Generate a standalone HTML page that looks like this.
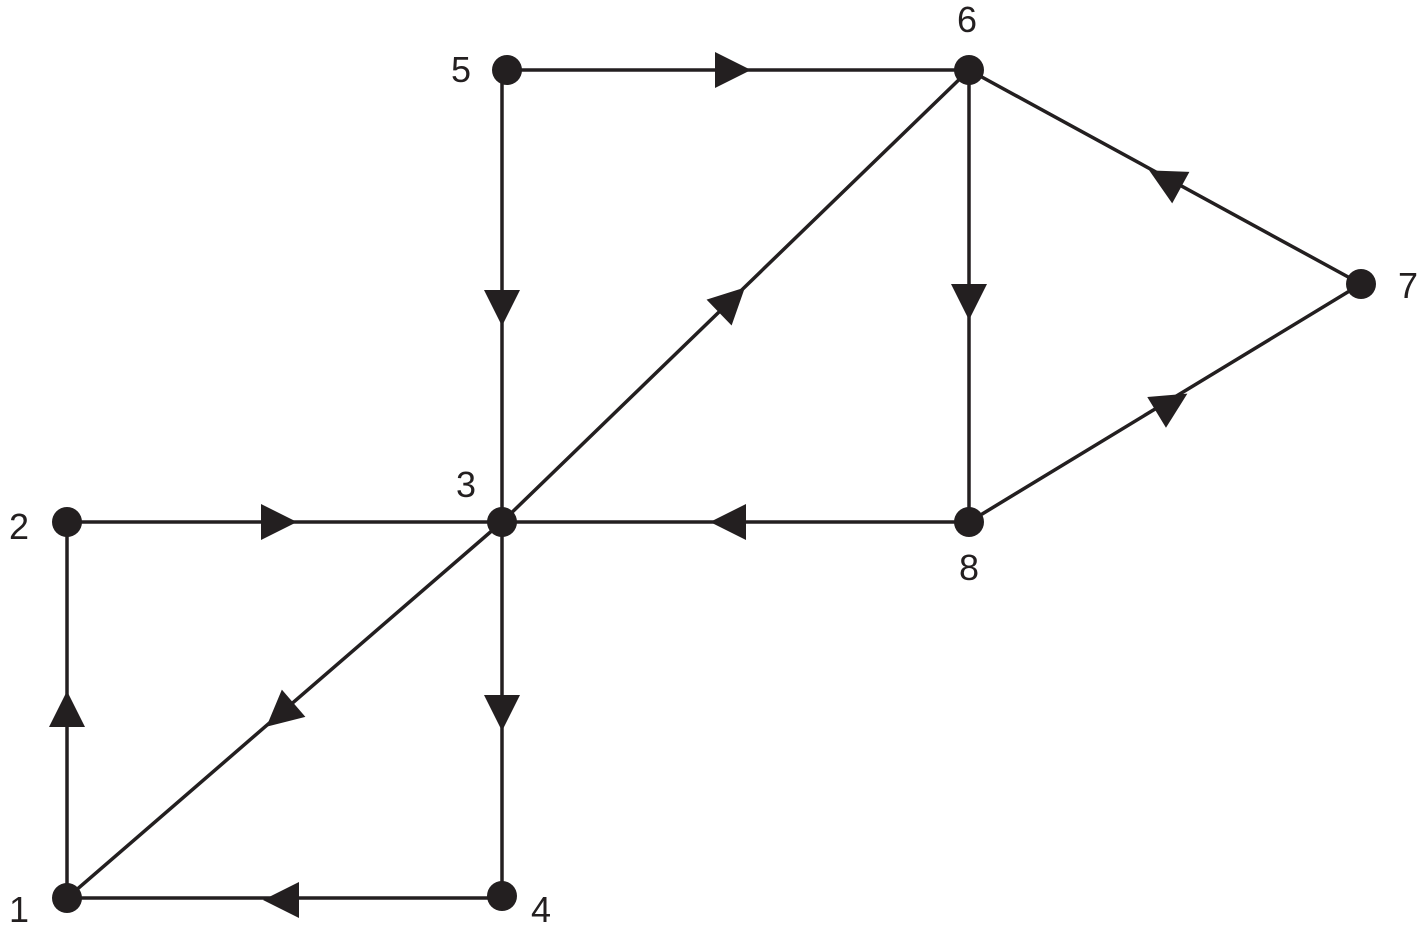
<!DOCTYPE html>
<html><head><meta charset="utf-8"><style>html,body{margin:0;padding:0;background:#fff}</style></head>
<body>
<svg width="1422" height="933" xmlns="http://www.w3.org/2000/svg">
<g stroke="#231f20" stroke-width="3.5" fill="none">
<line x1="507" y1="70" x2="969" y2="70"/>
<line x1="502" y1="70" x2="502" y2="522"/>
<line x1="67" y1="522" x2="969" y2="522"/>
<line x1="502" y1="522" x2="502" y2="896"/>
<line x1="67" y1="898" x2="502" y2="898"/>
<line x1="67" y1="522" x2="67" y2="898"/>
<line x1="502" y1="522" x2="969" y2="70"/>
<line x1="502" y1="522" x2="67" y2="898"/>
<line x1="969" y1="70" x2="969" y2="522"/>
<line x1="969" y1="70" x2="1361" y2="284"/>
<line x1="969" y1="522" x2="1361" y2="284"/>
</g>
<g fill="#231f20">
<g transform="translate(733,70)"><polygon points="-18,-18 18,0 -18,18"/></g>
<g transform="translate(502,308) rotate(90)"><polygon points="-18,-18 18,0 -18,18"/></g>
<g transform="translate(279,522)"><polygon points="-18,-18 18,0 -18,18"/></g>
<g transform="translate(728,522) rotate(180)"><polygon points="-18,-18 18,0 -18,18"/></g>
<g transform="translate(502,713) rotate(90)"><polygon points="-18,-18 18,0 -18,18"/></g>
<g transform="translate(281,900) rotate(180)"><polygon points="-18,-18 18,0 -18,18"/></g>
<g transform="translate(67,709) rotate(-90)"><polygon points="-18,-18 18,0 -18,18"/></g>
<g transform="translate(732,300) rotate(-44.1)"><polygon points="-18,-18 18,0 -18,18"/></g>
<g transform="translate(280,715) rotate(139.2)"><polygon points="-18,-18 18,0 -18,18"/></g>
<g transform="translate(969,302) rotate(90)"><polygon points="-18,-18 18,0 -18,18"/></g>
<g transform="translate(1165,179) rotate(208.6)"><polygon points="-18,-18 18,0 -18,18"/></g>
<g transform="translate(1172,403) rotate(-31.3)"><polygon points="-18,-18 18,0 -18,18"/></g>
<circle cx="67" cy="898" r="15"/>
<circle cx="67" cy="522" r="15"/>
<circle cx="502" cy="522" r="15"/>
<circle cx="502" cy="896" r="15"/>
<circle cx="507" cy="70" r="15"/>
<circle cx="969" cy="70" r="15"/>
<circle cx="1361" cy="284" r="15"/>
<circle cx="969" cy="522" r="15"/>
</g>
<g font-family="Liberation Sans, sans-serif" font-size="36" fill="#231f20" text-anchor="middle">
<text x="461" y="82">5</text>
<text x="967" y="32">6</text>
<text x="1408" y="298">7</text>
<text x="466" y="497">3</text>
<text x="19" y="539">2</text>
<text x="969" y="580">8</text>
<text x="19" y="922">1</text>
<text x="541" y="922">4</text>
</g>
</svg>
</body></html>
